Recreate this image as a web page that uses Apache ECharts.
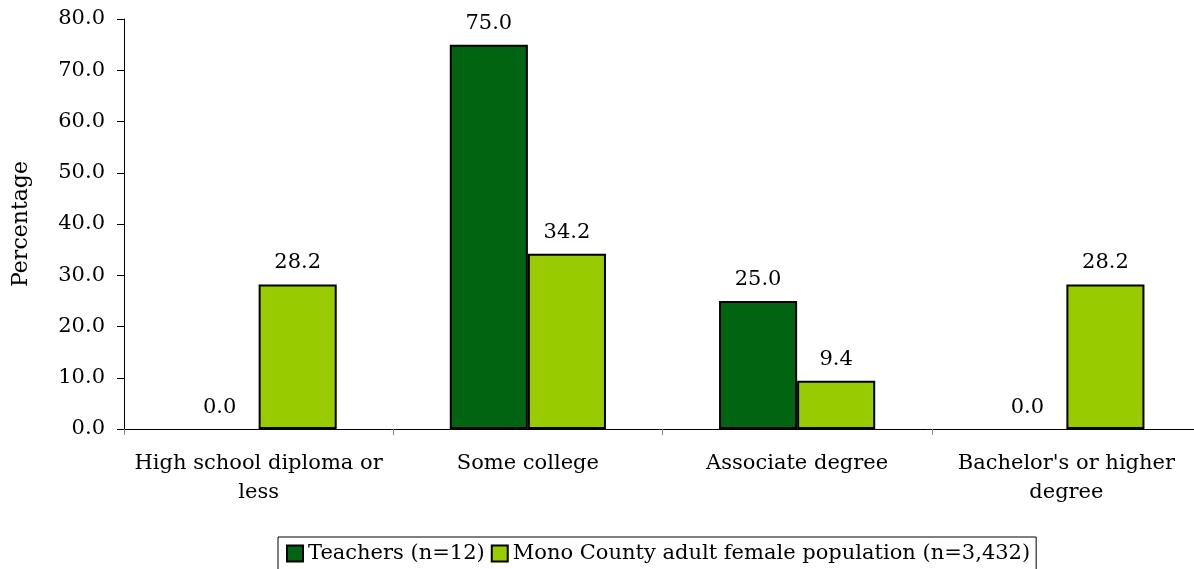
<!DOCTYPE html>
<html>
<head>
<meta charset="utf-8">
<script src="https://cdn.jsdelivr.net/npm/echarts@6/dist/echarts.min.js"></script>
<style>
  html, body { margin: 0; padding: 0; background: #fff; }
  #chart { width: 1194px; height: 569px; }
</style>
</head>
<body>
<div id="chart"></div>
<script>
// categories and values
const categories = ['High school diploma or\nless', 'Some college', 'Associate degree', "Bachelor's or higher\ndegree"]
const teachers = [0.0, 75.0, 25.0, 0.0]
const population = [28.2, 34.2, 9.4, 28.2]
const seriesNames = ['Teachers (n=12)', 'Mono County adult female population (n=3,432)']

const font = "'DejaVu Serif', Georgia, serif"
const chart = echarts.init(document.getElementById('chart'))

// zero bars get no outline, like the original
const toItems = arr => arr.map(v => v === 0 ? { value: v, itemStyle: { borderWidth: 0 } } : v)

const labelOpt = {
  show: true,
  position: 'top',
  distance: 11,
  color: '#000',
  fontFamily: font,
  fontSize: 21,
  formatter: p => p.value.toFixed(1)
}

chart.setOption({
  animation: false,
  textStyle: { fontFamily: font },
  grid: { left: 124, width: 1077, top: 19, bottom: 140, outerBoundsMode: 'none', containLabel: false },
  legend: {
    left: 278,
    top: 537,
    data: seriesNames,
    icon: 'rect',
    borderColor: '#000',
    borderWidth: 1,
    padding: [6, 6, 8, 8],
    itemWidth: 16,
    itemHeight: 16,
    itemGap: 6,
    textStyle: { fontFamily: font, fontSize: 21, color: '#000' }
  },
  xAxis: {
    type: 'category',
    data: categories,
    axisLine: { lineStyle: { color: '#000', width: 1 } },
    axisTick: { show: true, length: 6, lineStyle: { color: '#888' } },
    axisLabel: { color: '#000', fontSize: 21, fontFamily: font, lineHeight: 29, margin: 20, interval: 0 }
  },
  yAxis: {
    type: 'value',
    name: 'Percentage',
    nameLocation: 'middle',
    nameGap: 92,
    nameTextStyle: { color: '#000', fontSize: 22, fontFamily: font },
    min: 0,
    max: 80,
    interval: 10,
    axisLine: { show: true, lineStyle: { color: '#000' } },
    axisTick: { show: true, length: 7, lineStyle: { color: '#000' } },
    splitLine: { show: false },
    axisLabel: { color: '#000', fontSize: 21, fontFamily: font, margin: 19, formatter: v => v.toFixed(1) }
  },
  series: [
    {
      name: seriesNames[0],
      type: 'bar',
      data: toItems(teachers),
      barWidth: '29%',
      barGap: '0%',
      itemStyle: { color: '#006411', borderColor: '#000', borderWidth: 2 },
      label: labelOpt
    },
    {
      name: seriesNames[1],
      type: 'bar',
      data: toItems(population),
      barWidth: '29%',
      itemStyle: { color: '#99cc00', borderColor: '#000', borderWidth: 2 },
      label: labelOpt
    }
  ]
})
</script>
</body>
</html>
